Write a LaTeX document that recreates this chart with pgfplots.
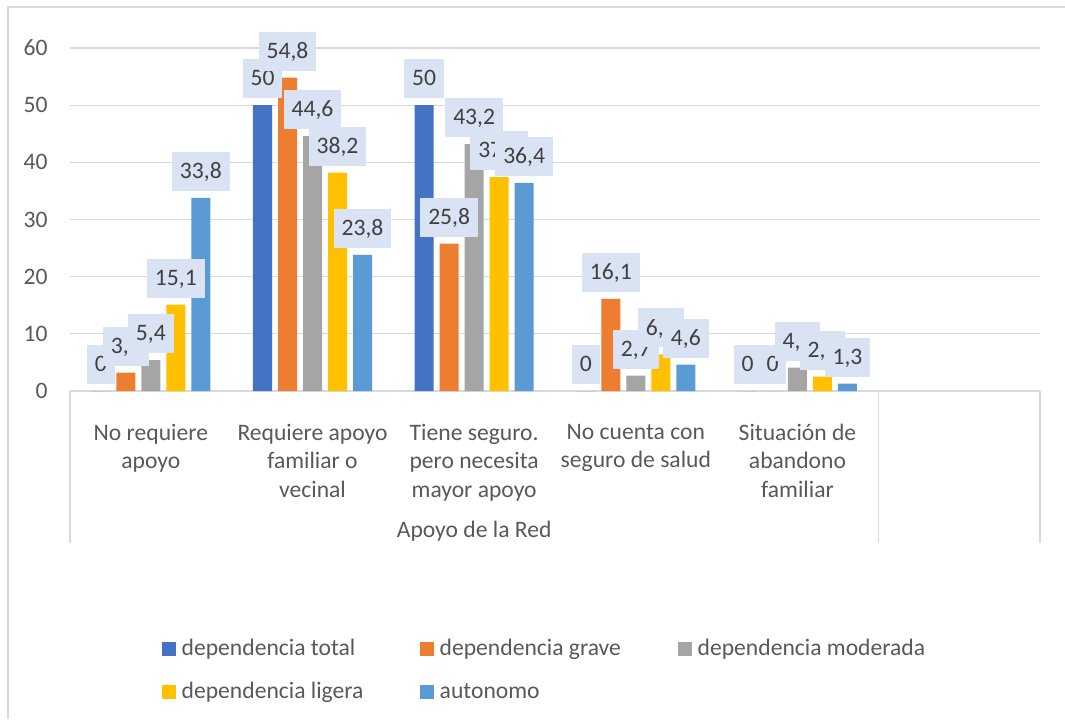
\documentclass[border=0pt]{standalone}
\usepackage{pgfplots}
\usepackage{pgfplotstable}
\pgfplotsset{compat=1.18}
\usepackage{fontspec}
\setmainfont{Carlito}
\definecolor{cTotal}{HTML}{4472C4}
\definecolor{cGrave}{HTML}{ED7D31}
\definecolor{cMod}{HTML}{A5A5A5}
\definecolor{cLig}{HTML}{FFC000}
\definecolor{cAut}{HTML}{5B9BD5}
\definecolor{gridc}{HTML}{D9D9D9}
\definecolor{txt}{HTML}{595959}
\definecolor{lbl}{HTML}{404040}
\definecolor{lblfill}{HTML}{DAE3F3}

\pgfplotstableread{
x total grave moderada ligera autonomo
0 0 3.2 5.4 15.1 33.8
1 50 54.8 44.6 38.2 23.8
2 50 25.8 43.2 37.4 36.4
3 0 16.1 2.7 6.4 4.6
4 0 0 4.1 2.5 1.3
}\datatable

\newcommand{\cfont}{\fontsize{11.8}{14.3}\selectfont}

\begin{document}
\begin{tikzpicture}
\path[use as bounding box, fill=white] (0,0) rectangle (532.5pt,359.5pt);
\draw[gridc, line width=0.6pt] (4pt,0) -- (4pt,356pt) -- (532.5pt,356pt);
\begin{axis}[
  at={(35pt,164pt)}, anchor=south west,
  scale only axis, width=485pt, height=171.5pt,
  xmin=-0.5, xmax=5.5, ymin=0, ymax=60,
  clip=false,
  ytick={0,10,...,60},
  xtick={0,1,2,3,4},
  xticklabels={{No requiere\\apoyo},{Requiere apoyo\\familiar o\\vecinal},{Tiene seguro.\\pero necesita\\mayor apoyo},{No cuenta con\\seguro de salud},{Situación de\\abandono\\familiar}},
  ymajorgrids, grid style={gridc, line width=0.6pt},
  axis line style={draw=none},
  tick style={draw=none},
  /pgf/number format/use comma,
  /pgf/number format/fixed,
  /pgf/number format/precision=1,
  /pgf/number format/assume math mode=true,
  yticklabel style={anchor=east, inner sep=0pt, xshift=-11pt, text=txt, font=\cfont},
  xticklabel style={anchor=north, inner sep=0pt, yshift=-12pt, align=center, text=txt, font=\cfont},
  ybar, bar width=9.5pt,
  legend image code/.code={\fill[#1] (0pt,-3.35pt) rectangle (6.7pt,3.35pt);},
  legend columns=3,
  legend cell align=left,
  legend style={at={(0.09515,-0.7235)}, anchor=north west, draw=none, fill=none,
    inner sep=0pt, outer sep=0pt, column sep=0pt, row sep=11.8pt,
    nodes={inner sep=0pt, text=txt, font=\cfont}},
  every node near coord/.append style={fill=lblfill, text=lbl, font=\cfont,
    anchor=south, yshift=3.5pt, inner xsep=4pt, inner ysep=4.75pt,
    text height=8.6pt, text depth=1.4pt, outer sep=0pt},
]
\addplot[fill=cTotal, draw=none, bar shift=-25pt] table[x=x,y=total]{\datatable};
\addlegendentry{\hspace{3pt}\makebox[119.3pt][l]{dependencia total\vphantom{dp}}}
\addplot[fill=cGrave, draw=none, bar shift=-12.5pt] table[x=x,y=grave]{\datatable};
\addlegendentry{\hspace{3pt}\makebox[119.3pt][l]{dependencia grave\vphantom{dp}}}
\addplot[fill=cMod, draw=none, bar shift=0pt] table[x=x,y=moderada]{\datatable};
\addlegendentry{\hspace{3pt}\makebox[119.3pt][l]{dependencia moderada\vphantom{dp}}}
\addplot[fill=cLig, draw=none, bar shift=12.5pt] table[x=x,y=ligera]{\datatable};
\addlegendentry{\hspace{3pt}\makebox[119.3pt][l]{dependencia ligera\vphantom{dp}}}
\addplot[fill=cAut, draw=none, bar shift=25pt] table[x=x,y=autonomo]{\datatable};
\addlegendentry{\hspace{3pt}\makebox[119.3pt][l]{autonomo\vphantom{dp}}}
% data labels on top of all bars
\addplot[draw=none, fill=none, bar shift=-25pt, nodes near coords, forget plot] table[x=x,y=total]{\datatable};
\addplot[draw=none, fill=none, bar shift=-12.5pt, nodes near coords, forget plot] table[x=x,y=grave]{\datatable};
\addplot[draw=none, fill=none, bar shift=0pt, nodes near coords, forget plot] table[x=x,y=moderada]{\datatable};
\addplot[draw=none, fill=none, bar shift=12.5pt, nodes near coords, forget plot] table[x=x,y=ligera]{\datatable};
\addplot[draw=none, fill=none, bar shift=25pt, nodes near coords, forget plot] table[x=x,y=autonomo]{\datatable};
\end{axis}
\draw[gridc, line width=0.6pt] (35pt,164pt) -- (35pt,88pt);
\draw[gridc, line width=0.6pt] (439.17pt,164pt) -- (439.17pt,88pt);
\draw[gridc, line width=0.6pt] (520pt,164pt) -- (520pt,88pt);
\node[anchor=base, text=txt, font=\cfont, inner sep=0pt] at (237.08pt,91pt) {Apoyo de la Red};
\end{tikzpicture}
\end{document}
